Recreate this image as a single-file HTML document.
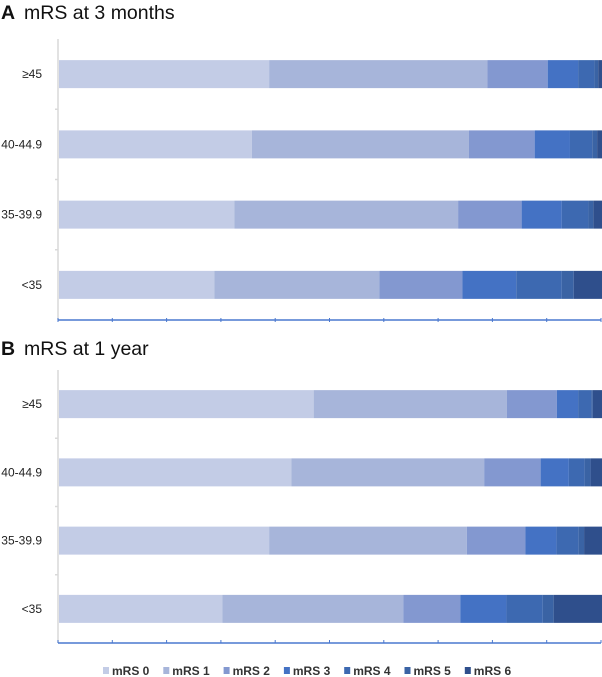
<!DOCTYPE html>
<html><head><meta charset="utf-8"><style>
html,body{margin:0;padding:0;background:#fff;}
svg{display:block;font-family:"Liberation Sans",Arial,sans-serif;}
</style></head><body>
<svg id="chart" width="602" height="677" viewBox="0 0 602 677">
<text x="1" y="19" font-size="19.5" font-weight="bold" fill="#111">A</text>
<text x="24" y="19" font-size="19.5" fill="#111">mRS at 3 months</text>
<text x="1" y="355" font-size="19.5" font-weight="bold" fill="#111">B</text>
<text x="24" y="355" font-size="19.5" fill="#111">mRS at 1 year</text>
</svg>
<script>
const categories = ["≥45","40-44.9","35-39.9","<35"];
const seriesNames = ["mRS 0","mRS 1","mRS 2","mRS 3","mRS 4","mRS 5","mRS 6"];
const panelA = [
  [38.7,40.2,11.1,5.6,3.0,0.7,0.7],
  [35.5,40.0,12.1,6.5,4.1,0.9,0.9],
  [32.3,41.2,11.7,7.4,4.9,0.9,1.6],
  [28.6,30.4,15.3,9.9,8.4,2.2,5.2]
];
const panelB = [
  [46.9,35.6,9.2,3.9,2.4,0.3,1.7],
  [42.8,35.5,10.4,5.2,2.9,1.1,2.1],
  [38.7,36.4,10.8,5.7,4.1,1.0,3.3],
  [30.1,33.3,10.5,8.5,6.7,2.0,9.2]
];
const colors = ["#c3cce6","#a7b5da","#8398d0","#4472c4","#3d69b1","#3a63a4","#2f4f8c"];
const NS="http://www.w3.org/2000/svg";
const svg=document.getElementById('chart');
function mk(tag,attrs,parent){const e=document.createElementNS(NS,tag);for(const k in attrs)e.setAttribute(k,attrs[k]);(parent||svg).appendChild(e);return e;}
const x0=58,x1=601;
function xs(v){return x0+(x1-x0)*v/100;}
function drawPanel(data,top,axisY,name,tickUp){
  const g=mk('g',{});
  
  
  const band=(axisY-top)/categories.length;
  const va=mk('line',{x1:x0,y1:top,x2:x0,y2:axisY,stroke:'#d9d9d9','stroke-width':1.5},g);
  
  
  for(let i=1;i<categories.length;i++){
    const t=mk('line',{x1:x0-3,y1:top+band*i,x2:x0,y2:top+band*i,stroke:'#d9d9d9','stroke-width':1.5},g);
    
    
  }
  categories.forEach((c,i)=>{
    const cy=top+band*(i+0.5);
    const lbl=mk('text',{x:42,y:cy+4,'font-size':12,'text-anchor':'end',fill:'#222'},g);
    lbl.textContent=c;
    
    
    let cum=0;
    data[i].forEach((v,j)=>{
      const r=mk('rect',{x:xs(cum)+1,y:cy-14,width:Math.max(0,xs(cum+v)-xs(cum)),height:28,fill:colors[j]},g);
      
      
      cum+=v;
    });
  });
  const ax=mk('line',{x1:x0,y1:axisY,x2:x1,y2:axisY,stroke:'#4a78cf','stroke-width':1.5},g);
  
  
  for(let k=0;k<=10;k++){
    const x=xs(k*10);
    const t=mk('line',{x1:x,y1:tickUp?axisY-3:axisY-2,x2:x,y2:tickUp?axisY:axisY+2,stroke:'#4a78cf','stroke-width':1},g);
    
    
  }
}
drawPanel(panelA,39,320,'panel-a',false);
drawPanel(panelB,370,643,'panel-b',true);
const lg=mk('g',{});


seriesNames.forEach((n,j)=>{
  const lx=103+j*60.3;
  const s=mk('rect',{x:lx,y:667,width:6,height:7,fill:colors[j]},lg);
  
  
  const t=mk('text',{x:lx+9,y:675,'font-size':12,'font-weight':'bold',fill:'#333'},lg);
  t.textContent=n;
  
  
});
</script>
</body></html>
